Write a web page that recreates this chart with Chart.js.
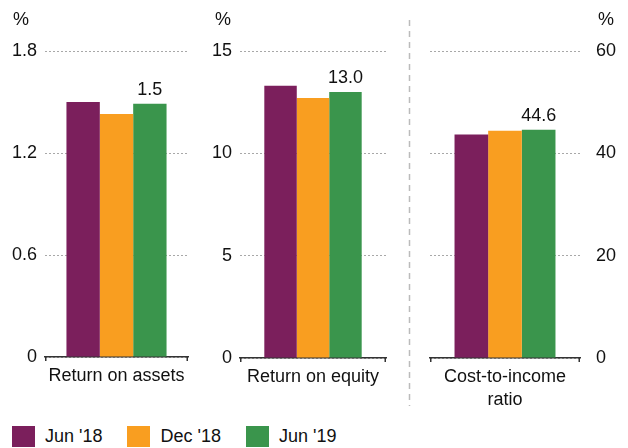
<!DOCTYPE html>
<html><head><meta charset="utf-8">
<script src="https://cdn.jsdelivr.net/npm/chart.js@4/dist/chart.umd.min.js"></script>
<style>
html,body{margin:0;padding:0;background:#fff;width:628px;height:448px;overflow:hidden;font-family:"Liberation Sans",Arial,sans-serif;}
canvas{position:absolute;top:0;}
#legend{position:absolute;left:12px;top:426px;height:21px;display:flex;align-items:center;font-size:18px;color:#111;}
.item{display:flex;align-items:center;margin-right:25px;}
.sw{width:23px;height:21px;margin-right:10px;}
</style></head><body>
<canvas id="c1" width="200" height="420" style="left:0"></canvas>
<canvas id="c2" width="200" height="420" style="left:200px"></canvas>
<canvas id="c3" width="228" height="420" style="left:400px"></canvas>
<div id="legend"></div>
<script>
const metrics = ['Return on assets', 'Return on equity', ['Cost-to-income', 'ratio']];
const seriesNames = ["Jun '18", "Dec '18", "Jun '19"];
const jun18 = [1.50, 13.3, 43.7];
const dec18 = [1.43, 12.7, 44.4];
const jun19 = [1.49, 13.0, 44.6];
const ticksRoa = [0, 0.6, 1.2, 1.8];
const ticksRoe = [0, 5, 10, 15];
const ticksCti = [0, 20, 40, 60];
const unitLabel = '%';
const colors = ['#7b1f5c', '#f99e20', '#3a954c'];

const series = [jun18, dec18, jun19];
const FONT = '"Liberation Sans", Arial, sans-serif';
const TXT = '#111';
Chart.defaults.font.family = FONT;
Chart.defaults.color = TXT;

const deco = {
  id: 'deco',
  afterDatasetsDraw(chart, args, opts) {
    const ctx = chart.ctx;
    const ca = chart.chartArea;
    ctx.save();
    // end ticks of the category axis
    ctx.strokeStyle = '#333';
    ctx.lineWidth = 1.5;
    ctx.beginPath();
    ctx.moveTo(ca.left + 0.75, ca.bottom);
    ctx.lineTo(ca.left + 0.75, ca.bottom + 4);
    ctx.moveTo(ca.right - 0.75, ca.bottom);
    ctx.lineTo(ca.right - 0.75, ca.bottom + 4);
    ctx.stroke();
    ctx.font = '18px ' + FONT;
    ctx.fillStyle = TXT;
    const last = chart.data.datasets.length - 1;
    const meta = chart.getDatasetMeta(last);
    meta.data.forEach((bar, j) => {
      ctx.textAlign = 'center';
      ctx.textBaseline = 'alphabetic';
      ctx.fillText(chart.data.datasets[last].data[j].toFixed(1), bar.x, bar.y - 9);
    });
    ctx.textAlign = 'left';
    ctx.textBaseline = 'middle';
    const ux = opts.side === 'left' ? ca.left + opts.dx : ca.right + opts.dx;
    ctx.fillText(unitLabel, ux, 20);
    if (opts.divider) {
      ctx.strokeStyle = '#bbb';
      ctx.lineWidth = 1.5;
      ctx.setLineDash([6, 5]);
      ctx.beginPath();
      ctx.moveTo(opts.divider, 20);
      ctx.lineTo(opts.divider, 406);
      ctx.stroke();
    }
    ctx.restore();
  }
};

function makeChart(id, idx, ticks, cfg) {
  return new Chart(document.getElementById(id), {
    type: 'bar',
    data: {
      labels: [metrics[idx]],
      datasets: seriesNames.map((n, i) => ({
        label: n,
        data: [series[i][idx]],
        backgroundColor: colors[i],
        borderWidth: 0,
        barPercentage: 1,
        categoryPercentage: cfg.cp
      }))
    },
    plugins: [deco],
    options: {
      responsive: false,
      animation: false,
      events: [],
      layout: { padding: cfg.pad },
      plugins: {
        legend: { display: false },
        tooltip: { enabled: false },
        deco: { side: cfg.pos, dx: cfg.udx, divider: cfg.divider }
      },
      scales: {
        x: {
          type: 'category',
          offset: true,
          grid: { display: true, drawOnChartArea: false, drawTicks: true, tickLength: 4, color: 'rgba(0,0,0,0)', tickColor: 'rgba(0,0,0,0)' },
          border: { display: true, color: '#333', width: 1.5 },
          ticks: { padding: 4, color: TXT, font: { size: 18, lineHeight: 1.25 }, maxRotation: 0, autoSkip: false },
          afterFit: s => { s.height = cfg.xh; }
        },
        y: {
          position: cfg.pos,
          min: 0,
          max: ticks[ticks.length - 1],
          afterBuildTicks: s => { s.ticks = ticks.map(v => ({ value: v })); },
          grid: { color: '#a8a8a8', lineWidth: 1, drawTicks: false, borderDash: [2, 2] },
          border: { display: false, dash: [2, 2] },
          ticks: { padding: cfg.tp, color: TXT, font: { size: 18 }, callback: v => String(v) },
          afterFit: s => { s.width = cfg.yw; }
        }
      }
    }
  });
}

makeChart('c1', 0, ticksRoa, { cp: 0.70, pad: { top: 51, left: 0, right: 12, bottom: 0 }, pos: 'left', yw: 45, tp: 8, xh: 63, udx: -32 });
makeChart('c2', 1, ticksRoe, { cp: 0.667, pad: { top: 51, left: 0, right: 14, bottom: 0 }, pos: 'left', yw: 40, tp: 8, xh: 62, udx: -25 });
makeChart('c3', 2, ticksCti, { cp: 0.673, pad: { top: 51, left: 30, right: 0, bottom: 0 }, pos: 'right', yw: 48, tp: 16, xh: 62, udx: 18, divider: 9.5 });

const lg = document.getElementById('legend');
seriesNames.forEach((n, i) => {
  const it = document.createElement('div');
  it.className = 'item';
  const sw = document.createElement('div');
  sw.className = 'sw';
  sw.style.background = colors[i];
  const tx = document.createElement('span');
  tx.textContent = n;
  it.appendChild(sw);
  it.appendChild(tx);
  lg.appendChild(it);
});
</script>
</body></html>
